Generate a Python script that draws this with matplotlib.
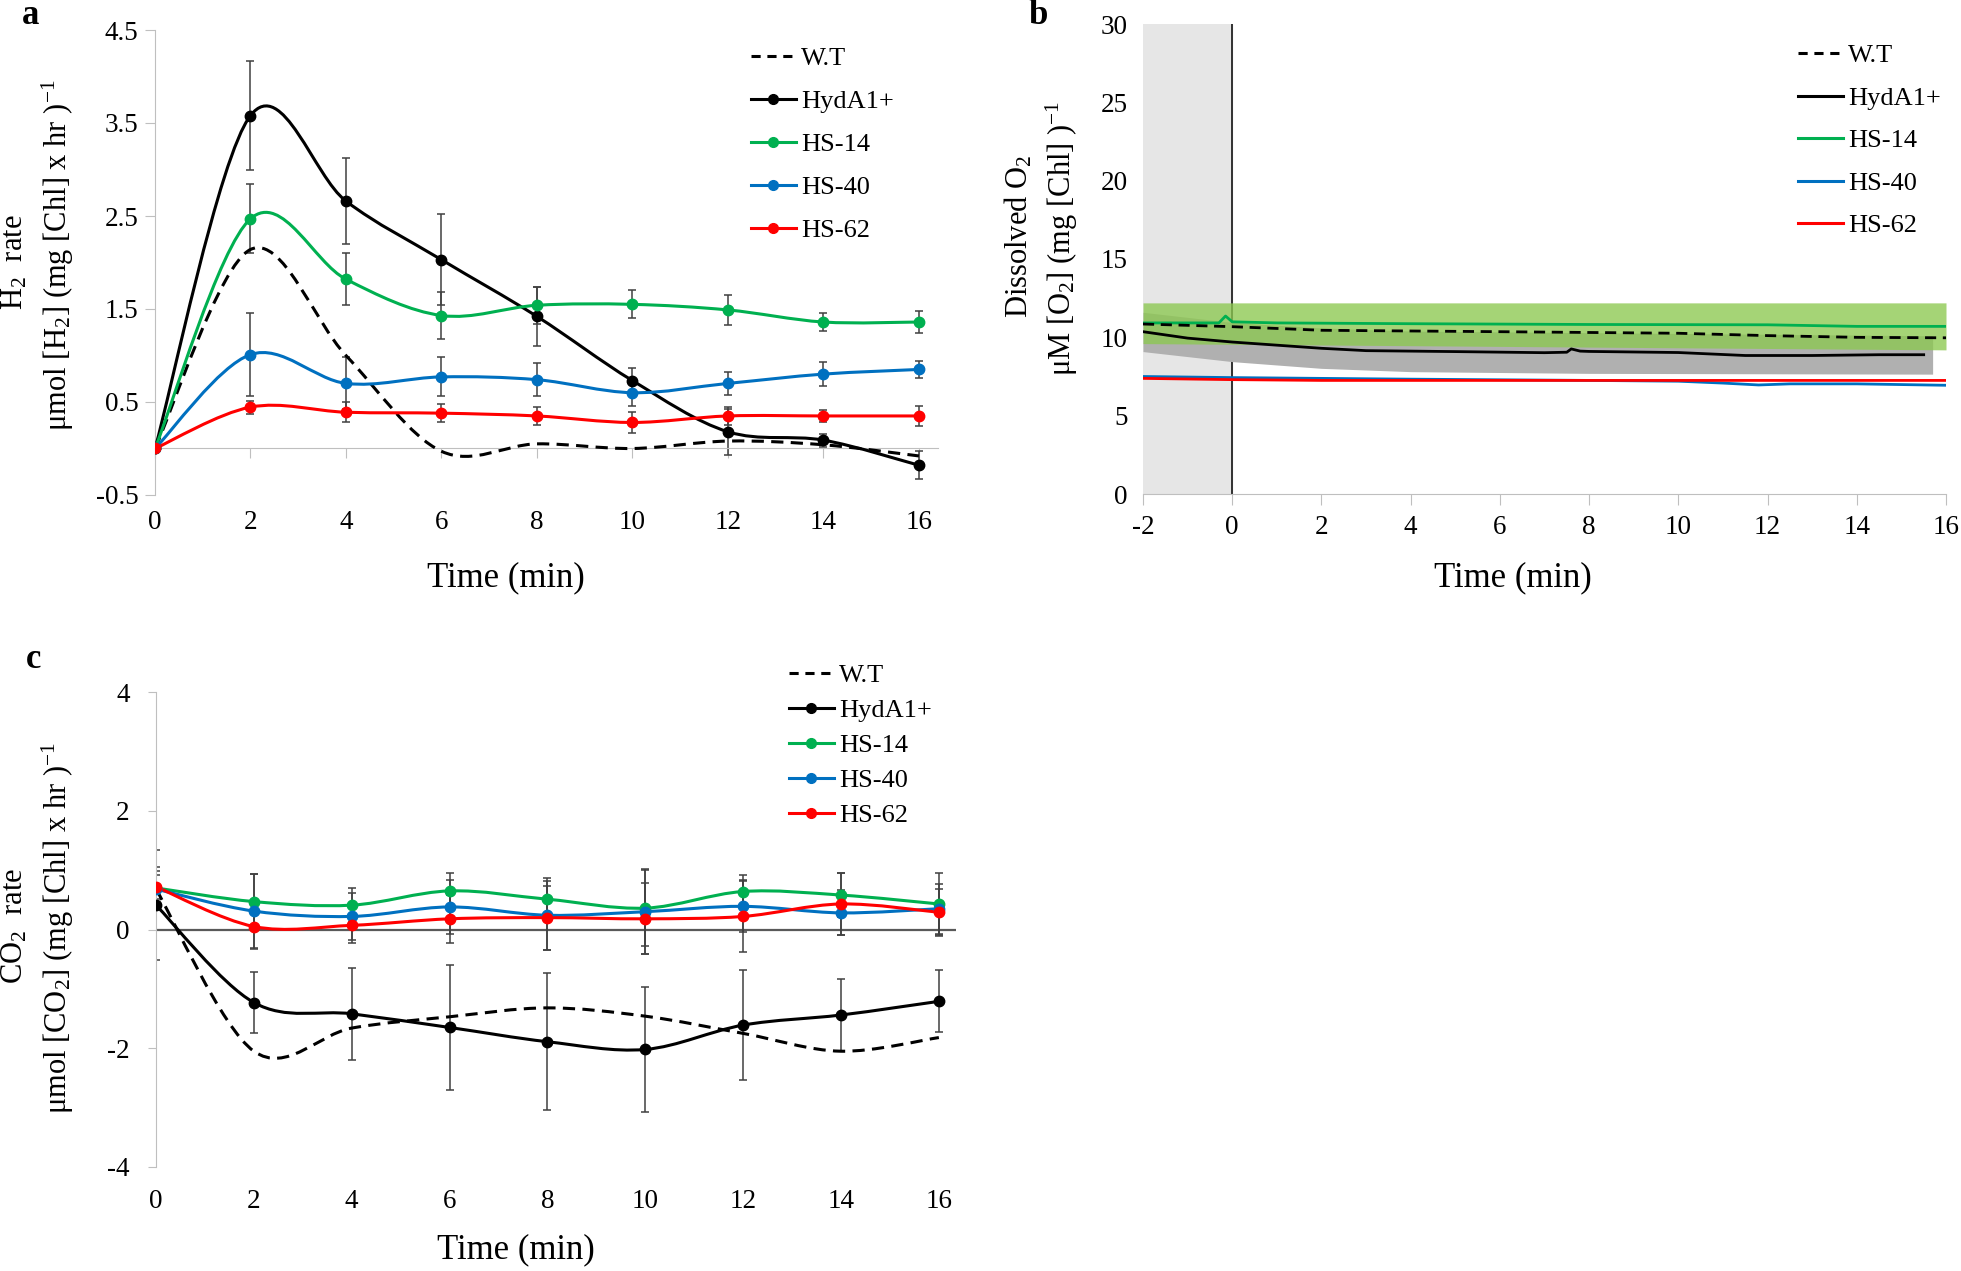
import numpy as np
import matplotlib.pyplot as plt
from matplotlib.path import Path
from matplotlib.patches import PathPatch
from matplotlib.lines import Line2D

plt.rcParams['axes.unicode_minus'] = False
plt.rcParams['mathtext.default'] = 'regular'

W, H = 1961, 1271

# ---------------- data ----------------
labels = ['W.T', 'HydA1+', 'HS-14', 'HS-40', 'HS-62']
colors = ['black', 'black', '#00b050', '#0070c0', '#ff0000']

# panel a: H2 rate
t_a = [0, 2, 4, 6, 8, 10, 12, 14, 16]
wt_a = [0, 2.14, 1.0, -0.03, 0.05, 0.0, 0.08, 0.04, -0.08]
hyd_a = [0, 3.58, 2.66, 2.03, 1.42, 0.73, 0.18, 0.09, -0.18]
hyd_a_err = [0, 0.59, 0.46, 0.49, 0.32, 0.14, 0.25, 0.07, 0.15]
hs14_a = [0, 2.47, 1.82, 1.43, 1.54, 1.55, 1.49, 1.36, 1.36]
hs14_a_err = [0, 0.37, 0.28, 0.25, 0.2, 0.15, 0.16, 0.1, 0.12]
hs40_a = [0, 1.01, 0.70, 0.77, 0.74, 0.60, 0.70, 0.80, 0.85]
hs40_a_err = [0, 0.45, 0.28, 0.21, 0.18, 0.14, 0.12, 0.13, 0.09]
hs62_a = [0, 0.445, 0.39, 0.38, 0.35, 0.28, 0.35, 0.35, 0.35]
hs62_a_err = [0, 0.07, 0.11, 0.1, 0.1, 0.11, 0.1, 0.06, 0.11]

# panel b: dissolved O2 traces
wt_b_t = [-2, 0, 1.5, 2, 6, 8, 10, 12, 14, 16]
wt_b = [10.85, 10.68, 10.51, 10.45, 10.36, 10.31, 10.26, 10.11, 10.0, 9.97]
hyd_b_t = [-2, -1, 0, 2, 3, 5, 7, 7.5, 7.6, 7.8, 8, 10, 11.5, 13, 14.5, 15.5]
hyd_b = [10.36, 9.95, 9.70, 9.30, 9.15, 9.09, 9.02, 9.05, 9.26, 9.12, 9.10,
         9.03, 8.84, 8.84, 8.89, 8.89]
hyd_band_t = [-2, 0, 2, 4, 8, 15.7]
hyd_band_lo = [9.09, 8.45, 8.02, 7.81, 7.70, 7.65]
hyd_band_hi = [11.6, 10.95, 10.6, 10.4, 10.3, 10.1]
hs14_b_t = [-2, -0.3, -0.15, 0, 1, 4, 8, 12, 14, 16]
hs14_b = [10.92, 10.92, 11.36, 10.99, 10.92, 10.87, 10.82, 10.80, 10.70, 10.70]
hs14_band_t = [-2, 16]
hs14_band_lo = [9.6, 9.2]
hs14_band_hi = [12.2, 12.2]
hs40_b_t = [-2, 0, 4, 8, 10, 11, 11.8, 12.5, 14, 16]
hs40_b = [7.50, 7.43, 7.33, 7.25, 7.20, 7.08, 6.96, 7.03, 7.03, 6.94]
hs62_b_t = [-2, 0, 2, 8, 16]
hs62_b = [7.38, 7.30, 7.25, 7.25, 7.25]

# panel c: CO2 rate
t_c = [0, 2, 4, 6, 8, 10, 12, 14, 16]
wt_c = [0.68, -2.05, -1.66, -1.47, -1.32, -1.46, -1.75, -2.05, -1.82]
hyd_c = [0.41, -1.23, -1.42, -1.65, -1.89, -2.02, -1.61, -1.44, -1.21]
hyd_c_err = [0.93, 0.52, 0.78, 1.05, 1.15, 1.05, 0.92, 0.6, 0.52]
hs14_c = [0.70, 0.47, 0.41, 0.65, 0.51, 0.36, 0.64, 0.58, 0.43]
hs14_c_err = [0.36, 0.47, 0.29, 0.30, 0.36, 0.64, 0.28, 0.37, 0.53]
hs40_c = [0.68, 0.31, 0.22, 0.38, 0.24, 0.30, 0.39, 0.28, 0.35]
hs40_c_err = [0.3, 0.62, 0.39, 0.45, 0.58, 0.72, 0.44, 0.38, 0.42]
hs62_c = [0.72, 0.05, 0.07, 0.18, 0.20, 0.18, 0.22, 0.43, 0.29]
hs62_c_err = [0.2, 0.38, 0.30, 0.40, 0.54, 0.60, 0.60, 0.52, 0.40]

SERIF = 'Liberation Serif'
TICK = 19.5
DASH = (0, (4, 2.4))


def smooth(ax, x, y, color, ls='-', lw=2.2):
    # Excel style smoothed line: cubic bezier through every point
    x = np.asarray(x, float)
    y = np.asarray(y, float)
    n = len(x)
    verts = [(x[0], y[0])]
    codes = [Path.MOVETO]
    for i in range(n - 1):
        p0 = max(i - 1, 0)
        p3 = min(i + 2, n - 1)
        c1 = (x[i] + (x[i + 1] - x[p0]) / 6, y[i] + (y[i + 1] - y[p0]) / 6)
        c2 = (x[i + 1] - (x[p3] - x[i]) / 6, y[i + 1] - (y[p3] - y[i]) / 6)
        verts += [c1, c2, (x[i + 1], y[i + 1])]
        codes += [Path.CURVE4] * 3
    patch = PathPatch(Path(verts, codes), fill=False, edgecolor=color,
                      lw=lw, linestyle=ls, capstyle='butt', zorder=3)
    ax.add_patch(patch)


def px(x, y):
    return x / W, 1 - y / H


def serif_ticks(ax):
    for t in ax.get_xticklabels() + ax.get_yticklabels():
        t.set_family(SERIF)


fig = plt.figure(figsize=(W / 100, H / 100), dpi=100)

# ================= panel a =================
ax = fig.add_axes([155 / W, 1 - 495 / H, 783 / W, 465 / H])
ax.set_xlim(0, 16.4)
ax.set_ylim(-0.5, 4.5)

ser_a = [(hyd_a, hyd_a_err), (hs14_a, hs14_a_err), (hs40_a, hs40_a_err), (hs62_a, hs62_a_err)]
for (y, e), c in zip(ser_a, colors[1:]):
    ax.errorbar(t_a, y, yerr=e, fmt='none', ecolor='#404040', elinewidth=1.1,
                capsize=3, capthick=1.1, zorder=2)
smooth(ax, t_a, wt_a, 'black', ls=DASH)
for (y, e), c in zip(ser_a, colors[1:]):
    smooth(ax, t_a, y, c)
    ax.plot(t_a, y, 'o', color=c, ms=7.5, zorder=4)

ax.set_xticks(range(0, 17, 2))
ax.set_yticks([-0.5, 0.5, 1.5, 2.5, 3.5, 4.5])
ax.set_yticklabels(['-0.5', '0.5', '1.5', '2.5', '3.5', '4.5'])
for s in ['top', 'right']:
    ax.spines[s].set_visible(False)
ax.spines['left'].set_color('#bfbfbf')
ax.spines['bottom'].set_color('#bfbfbf')
ax.spines['bottom'].set_position(('data', 0))
ax.tick_params(axis='x', length=7, color='#bfbfbf', labelbottom=False)
ax.tick_params(axis='y', length=7, color='#bfbfbf', pad=5, labelsize=TICK)
sec = ax.secondary_xaxis('bottom')
sec.set_xticks(range(0, 17, 2))
sec.spines['bottom'].set_visible(False)
sec.tick_params(length=0, pad=11, labelsize=TICK)
serif_ticks(ax)
serif_ticks(sec)

# ================= panel b =================
bx = fig.add_axes([1143 / W, 1 - 494 / H, 803 / W, 470 / H])
bx.set_xlim(-2, 16)
bx.set_ylim(0, 30)
bx.axvspan(-2, 0, color='#e6e6e6', zorder=0)
bx.axvline(0, color='black', lw=1.1, zorder=1)
bx.fill_between(hyd_band_t, hyd_band_lo, hyd_band_hi, color='#b0b0b0', lw=0, zorder=1)
bx.fill_between(hs14_band_t, hs14_band_lo, hs14_band_hi, color='#8cc850', alpha=0.78,
                lw=0, zorder=1.5)
bx.plot(hs40_b_t, hs40_b, color=colors[3], lw=2, zorder=3)
bx.plot(hs62_b_t, hs62_b, color=colors[4], lw=2, zorder=3)
bx.plot(hyd_b_t, hyd_b, color='black', lw=2, zorder=3)
bx.plot(hs14_b_t, hs14_b, color=colors[2], lw=2, zorder=3)
bx.plot(wt_b_t, wt_b, color='black', lw=2, ls=DASH, zorder=3)

bx.set_xticks(range(-2, 17, 2))
bx.set_yticks(range(0, 31, 5))
for s in ['top', 'right', 'left']:
    bx.spines[s].set_visible(False)
bx.spines['bottom'].set_color('#bfbfbf')
bx.tick_params(axis='x', length=8, color='#bfbfbf', pad=7, labelsize=TICK)
bx.tick_params(axis='y', length=0, pad=11, labelsize=TICK)
serif_ticks(bx)

# ================= panel c =================
cx = fig.add_axes([156 / W, 1 - 1167 / H, 800 / W, 475 / H])
cx.set_xlim(0, 16.35)
cx.set_ylim(-4, 4)
cx.axhline(0, color='#595959', lw=1.6, zorder=1)

ser_c = [(hyd_c, hyd_c_err), (hs14_c, hs14_c_err), (hs40_c, hs40_c_err), (hs62_c, hs62_c_err)]
for (y, e), c in zip(ser_c, colors[1:]):
    cx.errorbar(t_c, y, yerr=e, fmt='none', ecolor='#404040', elinewidth=1.1,
                capsize=3, capthick=1.1, zorder=2)
smooth(cx, t_c, wt_c, 'black', ls=DASH)
for (y, e), c in zip(ser_c, colors[1:]):
    smooth(cx, t_c, y, c)
    cx.plot(t_c, y, 'o', color=c, ms=7.5, zorder=4)

cx.set_xticks(range(0, 17, 2))
cx.set_yticks([-4, -2, 0, 2, 4])
for s in ['top', 'right', 'bottom']:
    cx.spines[s].set_visible(False)
cx.spines['left'].set_color('#bfbfbf')
cx.tick_params(axis='x', length=0, pad=16, labelsize=TICK)
cx.tick_params(axis='y', length=6, color='#bfbfbf', pad=13, labelsize=TICK)
serif_ticks(cx)

# ================= legends =================
def handles(markers):
    hs = [Line2D([], [], color='black', lw=2.2, ls=(0, (3, 2.2)))]
    for c in colors[1:]:
        hs.append(Line2D([], [], color=c, lw=2.2, marker='o' if markers else None, ms=7))
    return hs

leg_kw = dict(loc='upper left', frameon=False, borderpad=0, borderaxespad=0,
              handlelength=1.7, handletextpad=0.2,
              prop={'family': SERIF, 'size': 19})
fig.legend(handles(True), labels, bbox_to_anchor=px(751, 47), labelspacing=0.74, **leg_kw)
fig.legend(handles(False), labels, bbox_to_anchor=px(1798, 44), labelspacing=0.72, **leg_kw)
fig.legend(handles(True), labels, bbox_to_anchor=px(789, 664), labelspacing=0.43, **leg_kw)

# ================= text =================
lab = dict(family=SERIF, size=22, rotation=90, ha='center', va='center')
fig.text(*px(15, 262), 'H$_2$  rate', **lab)
fig.text(*px(58, 255), 'μmol [H$_2$] (mg [Chl] x hr )$^{-1}$', **lab)
fig.text(*px(1019, 236), 'Dissolved O$_2$', **lab)
fig.text(*px(1062, 238), 'μM [O$_2$] (mg [Chl] )$^{-1}$', **lab)
fig.text(*px(15, 926), 'CO$_2$  rate', **lab)
fig.text(*px(58, 928), 'μmol [CO$_2$] (mg [Chl] x hr )$^{-1}$', **lab)

xl = dict(family=SERIF, size=25, ha='center', va='center')
fig.text(*px(506, 578), 'Time (min)', **xl)
fig.text(*px(1513, 578), 'Time (min)', **xl)
fig.text(*px(516, 1250), 'Time (min)', **xl)

pl = dict(family=SERIF, weight='bold', size=25, ha='center', va='center')
fig.text(*px(31, 15), 'a', **pl)
fig.text(*px(1038, 15), 'b', **pl)
fig.text(*px(34, 660), 'c', **pl)

fig.savefig('out.png', dpi=100)
